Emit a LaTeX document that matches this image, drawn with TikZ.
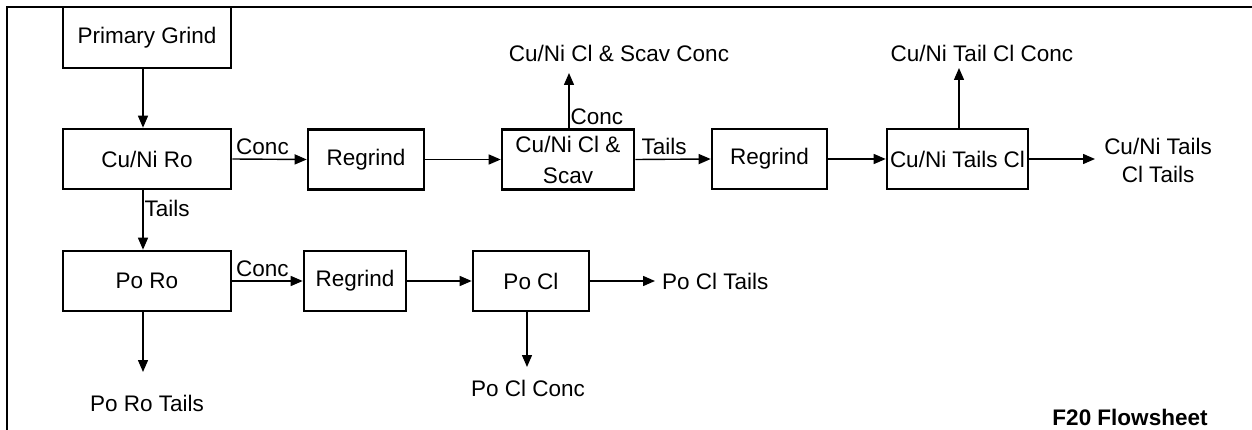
\documentclass[tikz,border=0pt]{standalone}
\usepackage{fontspec}
\setmainfont{Liberation Sans}
\usetikzlibrary{arrows.meta}
\begin{document}
\begin{tikzpicture}[x=1pt,y=-1pt,
  every node/.style={font=\fontsize{22.5}{28}\selectfont, inner sep=0pt},
  unit/.style={draw, line width=2.6pt, rectangle, minimum height=60pt, align=center},
  flow/.style={line width=1.4pt, -{Triangle[length=12pt,width=10pt]}},
  lbl/.style={inner sep=1pt},
  toplbl/.style={inner xsep=1pt, inner ysep=4pt}]
\useasboundingbox (0,0) rectangle (1252,430);
\draw[line width=2.4pt] (7,430) -- (7,7) -- (1252,7);
% units
\node[unit, minimum width=168pt, minimum height=61pt] (pg) at (147,37.5) {Primary Grind};
\node[unit, minimum width=168pt] (cnr) at (147,159) {Cu/Ni Ro};
\node[unit, minimum width=168pt] (por) at (147,281) {Po Ro};
\node[unit, minimum width=116pt] (rg1) at (366,159.5) {Regrind};
\node[unit, minimum width=132pt, font=\fontsize{22.5}{31}\selectfont] (cls) at (568,159.5) {Cu/Ni Cl \&\\Scav};
\node[unit, minimum width=115pt] (rg2) at (769.5,159) {Regrind};
\node[unit, minimum width=141pt] (tcl) at (957.5,159) {Cu/Ni Tails Cl};
\node[unit, minimum width=102pt] (rg3) at (355,281) {Regrind};
\node[unit, minimum width=116pt] (pcl) at (531,281) {Po Cl};
% product texts
\node (prt) at (147,403) {Po Ro Tails};
\node (clsc) at (619,53) {Cu/Ni Cl \& Scav Conc};
\node (tclc) at (982,53) {Cu/Ni Tail Cl Conc};
\node[align=center] (tclt) at (1158,160) {Cu/Ni Tails\\Cl Tails};
\node[anchor=west] (pclt) at (662,281) {Po Cl Tails};
\node (pclc) at (528,388) {Po Cl Conc};
\node[font=\fontsize{22.5}{27}\selectfont\bfseries] (title) at (1130,417) {F20 Flowsheet};
% free ends
\coordinate (e0) at (143,129);
\coordinate (e1) at (147,372);
\coordinate (e2) at (569,73);
\coordinate (e3) at (959,68);
\coordinate (e4) at (1095,159);
\coordinate (e5) at (655,281);
\coordinate (e6) at (527,367);
% connectors
\draw[flow] (pg.south -| e0) -- (cnr.north -| e0);
\draw[flow] (cnr.east) -- node[toplbl, pos=0.03, anchor=south west] {Conc} (rg1.west);
\draw[flow] (cnr.south -| e0) -- node[lbl, pos=0.3, anchor=west] {Tails} (por.north -| e0);
\draw[flow] (por.east) -- node[toplbl, pos=0.03, anchor=south west] {Conc} (rg3.west);
\draw[flow] (por.south -| e0) -- (e1 -| e0);
\draw[flow] (rg1.east) -- (cls.west);
\draw[flow] (cls.north -| e2) -- node[lbl, pos=0.2, anchor=west] {Conc} (e2);
\draw[flow] (cls.east) -- node[toplbl, pos=0.06, anchor=south west] {Tails} (rg2.west);
\draw[flow] (rg2.east) -- (tcl.west);
\draw[flow] (tcl.north -| e3) -- (e3);
\draw[flow] (tcl.east) -- (e4);
\draw[flow] (rg3.east) -- (pcl.west);
\draw[flow] (pcl.east) -- (e5);
\draw[flow] (pcl.south -| e6) -- (e6);
\end{tikzpicture}
\end{document}
